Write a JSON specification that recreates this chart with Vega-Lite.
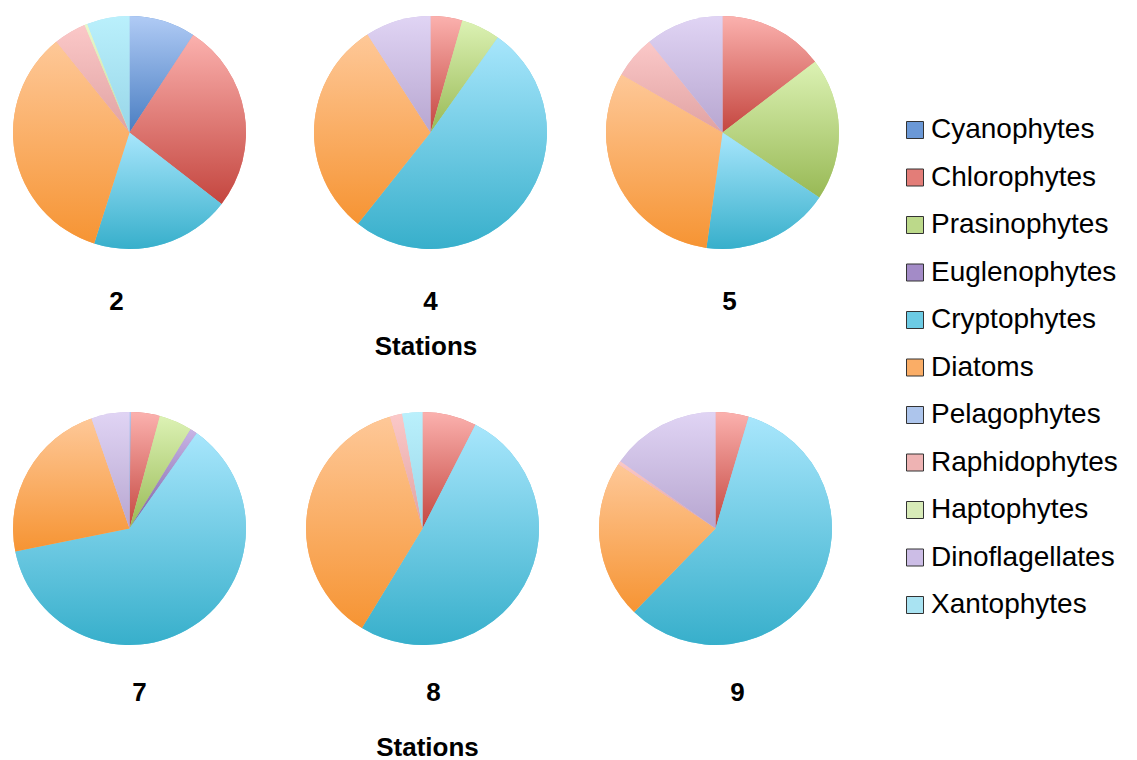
{
  "$schema": "https://vega.github.io/schema/vega-lite/v6.json",
  "padding": {"left": 13, "top": 16, "right": 0, "bottom": 0},
  "background": "white",
  "datasets": {
    "phyto": [
      {"station": "2", "group": "Cyanophytes", "pct": 9.2},
      {"station": "2", "group": "Chlorophytes", "pct": 26.3},
      {"station": "2", "group": "Cryptophytes", "pct": 19.4},
      {"station": "2", "group": "Diatoms", "pct": 34.3},
      {"station": "2", "group": "Raphidophytes", "pct": 4.5},
      {"station": "2", "group": "Haptophytes", "pct": 0.4},
      {"station": "2", "group": "Xantophytes", "pct": 5.9},
      {"station": "4", "group": "Chlorophytes", "pct": 4.4},
      {"station": "4", "group": "Prasinophytes", "pct": 5.4},
      {"station": "4", "group": "Cryptophytes", "pct": 50.9},
      {"station": "4", "group": "Diatoms", "pct": 30.2},
      {"station": "4", "group": "Dinoflagellates", "pct": 9.1},
      {"station": "5", "group": "Chlorophytes", "pct": 14.6},
      {"station": "5", "group": "Prasinophytes", "pct": 19.8},
      {"station": "5", "group": "Cryptophytes", "pct": 17.8},
      {"station": "5", "group": "Diatoms", "pct": 31.1},
      {"station": "5", "group": "Raphidophytes", "pct": 5.9},
      {"station": "5", "group": "Dinoflagellates", "pct": 10.8},
      {"station": "7", "group": "Cyanophytes", "pct": 0.2},
      {"station": "7", "group": "Chlorophytes", "pct": 4.0},
      {"station": "7", "group": "Prasinophytes", "pct": 4.6},
      {"station": "7", "group": "Euglenophytes", "pct": 1.0},
      {"station": "7", "group": "Cryptophytes", "pct": 62.1},
      {"station": "7", "group": "Diatoms", "pct": 22.9},
      {"station": "7", "group": "Dinoflagellates", "pct": 5.3},
      {"station": "8", "group": "Chlorophytes", "pct": 7.5},
      {"station": "8", "group": "Cryptophytes", "pct": 51.2},
      {"station": "8", "group": "Diatoms", "pct": 36.8},
      {"station": "8", "group": "Raphidophytes", "pct": 1.7},
      {"station": "8", "group": "Xantophytes", "pct": 2.8},
      {"station": "9", "group": "Chlorophytes", "pct": 4.6},
      {"station": "9", "group": "Cryptophytes", "pct": 57.7},
      {"station": "9", "group": "Diatoms", "pct": 22.0},
      {"station": "9", "group": "Raphidophytes", "pct": 0.5},
      {"station": "9", "group": "Dinoflagellates", "pct": 15.2}
    ],
    "cats": [
      {"group": "Cyanophytes", "rank": 1},
      {"group": "Chlorophytes", "rank": 2},
      {"group": "Prasinophytes", "rank": 3},
      {"group": "Euglenophytes", "rank": 4},
      {"group": "Cryptophytes", "rank": 5},
      {"group": "Diatoms", "rank": 6},
      {"group": "Pelagophytes", "rank": 7},
      {"group": "Raphidophytes", "rank": 8},
      {"group": "Haptophytes", "rank": 9},
      {"group": "Dinoflagellates", "rank": 10},
      {"group": "Xantophytes", "rank": 11}
    ]
  },
  "data": {"name": "phyto"},
  "transform": [
    {"lookup": "group", "from": {"data": {"name": "cats"}, "key": "group", "fields": ["rank"]}}
  ],
  "spacing": 52,
  "vconcat": [
    {
      "spacing": 68,
      "title": {"text": "Stations", "orient": "bottom", "anchor": "middle", "offset": 19},
      "hconcat": [
        {
          "width": 233, "height": 233,
          "title": {"text": "2", "orient": "bottom", "anchor": "middle", "offset": 40, "dx": -13},
          "transform": [{"filter": "datum.station === '2'"}],
          "layer": [
            {"mark": {"type": "arc"}, "encoding": {
              "theta": {"field": "pct", "type": "quantitative", "stack": true},
              "order": {"field": "rank", "type": "quantitative"},
              "color": {"field": "group", "type": "nominal",
                "scale": {"domain": ["Cyanophytes","Chlorophytes","Prasinophytes","Euglenophytes","Cryptophytes","Diatoms","Pelagophytes","Raphidophytes","Haptophytes","Dinoflagellates","Xantophytes"],
                          "range": ["#6b98d6","#e37d78","#bcd98a","#a38bc7","#6ccbe4","#faad66","#adc5ec","#eeb3b3","#d8ebb8","#ccbde6","#a9e3f2"]},
                "legend": {"title": null, "orient": "none", "legendX": 888, "legendY": 100}}
            }},
            {"mark": {"type": "arc"}, "encoding": {
              "theta": {"field": "pct", "type": "quantitative", "stack": true},
              "order": {"field": "rank", "type": "quantitative"},
              "detail": {"field": "group", "type": "nominal"},
              "fill": {"condition": [
                {"test": "datum.group === 'Cyanophytes'", "value": {"gradient": "linear", "x1": 0, "y1": 0, "x2": 0, "y2": 1, "stops": [{"offset": 0, "color": "#b0cbf5"}, {"offset": 1, "color": "#4a7ec2"}]}},
                {"test": "datum.group === 'Chlorophytes'", "value": {"gradient": "linear", "x1": 0, "y1": 0, "x2": 0, "y2": 1, "stops": [{"offset": 0, "color": "#fbb1ae"}, {"offset": 1, "color": "#c4463f"}]}},
                {"test": "datum.group === 'Prasinophytes'", "value": {"gradient": "linear", "x1": 0, "y1": 0, "x2": 0, "y2": 1, "stops": [{"offset": 0, "color": "#dcf2b4"}, {"offset": 1, "color": "#98b955"}]}},
                {"test": "datum.group === 'Euglenophytes'", "value": {"gradient": "linear", "x1": 0, "y1": 0, "x2": 0, "y2": 1, "stops": [{"offset": 0, "color": "#c8b4e6"}, {"offset": 1, "color": "#7d61a4"}]}},
                {"test": "datum.group === 'Cryptophytes'", "value": {"gradient": "linear", "x1": 0, "y1": 0, "x2": 0, "y2": 1, "stops": [{"offset": 0, "color": "#a8e6fc"}, {"offset": 1, "color": "#37afcb"}]}},
                {"test": "datum.group === 'Diatoms'", "value": {"gradient": "linear", "x1": 0, "y1": 0, "x2": 0, "y2": 1, "stops": [{"offset": 0, "color": "#fec898"}, {"offset": 1, "color": "#f69433"}]}},
                {"test": "datum.group === 'Pelagophytes'", "value": {"gradient": "linear", "x1": 0, "y1": 0, "x2": 0, "y2": 1, "stops": [{"offset": 0, "color": "#c6d8f6"}, {"offset": 1, "color": "#93b0d8"}]}},
                {"test": "datum.group === 'Raphidophytes'", "value": {"gradient": "linear", "x1": 0, "y1": 0, "x2": 0, "y2": 1, "stops": [{"offset": 0, "color": "#fbc8c8"}, {"offset": 1, "color": "#e0a2a2"}]}},
                {"test": "datum.group === 'Haptophytes'", "value": {"gradient": "linear", "x1": 0, "y1": 0, "x2": 0, "y2": 1, "stops": [{"offset": 0, "color": "#e8f8cc"}, {"offset": 1, "color": "#c6dc9c"}]}},
                {"test": "datum.group === 'Dinoflagellates'", "value": {"gradient": "linear", "x1": 0, "y1": 0, "x2": 0, "y2": 1, "stops": [{"offset": 0, "color": "#e0d4f4"}, {"offset": 1, "color": "#b7a6d0"}]}},
                {"test": "datum.group === 'Xantophytes'", "value": {"gradient": "linear", "x1": 0, "y1": 0, "x2": 0, "y2": 1, "stops": [{"offset": 0, "color": "#baf0fc"}, {"offset": 1, "color": "#98d6e8"}]}}
              ], "value": "#cccccc"}
            }}
          ]
        },
        {
          "spacing": 59,
          "hconcat": [
            {
              "width": 233, "height": 233,
              "title": {"text": "4", "orient": "bottom", "anchor": "middle", "offset": 40, "dx": 0},
              "transform": [{"filter": "datum.station === '4'"}],
              "layer": [
                {"mark": {"type": "arc"}, "encoding": {
                  "theta": {"field": "pct", "type": "quantitative", "stack": true},
                  "order": {"field": "rank", "type": "quantitative"},
                  "color": {"field": "group", "type": "nominal",
                    "scale": {"domain": ["Cyanophytes","Chlorophytes","Prasinophytes","Euglenophytes","Cryptophytes","Diatoms","Pelagophytes","Raphidophytes","Haptophytes","Dinoflagellates","Xantophytes"],
                              "range": ["#6b98d6","#e37d78","#bcd98a","#a38bc7","#6ccbe4","#faad66","#adc5ec","#eeb3b3","#d8ebb8","#ccbde6","#a9e3f2"]},
                    "legend": {"title": null, "orient": "none", "legendX": 888, "legendY": 100}}
                }},
                {"mark": {"type": "arc"}, "encoding": {
                  "theta": {"field": "pct", "type": "quantitative", "stack": true},
                  "order": {"field": "rank", "type": "quantitative"},
                  "detail": {"field": "group", "type": "nominal"},
                  "fill": {"condition": [
                    {"test": "datum.group === 'Cyanophytes'", "value": {"gradient": "linear", "x1": 0, "y1": 0, "x2": 0, "y2": 1, "stops": [{"offset": 0, "color": "#b0cbf5"}, {"offset": 1, "color": "#4a7ec2"}]}},
                    {"test": "datum.group === 'Chlorophytes'", "value": {"gradient": "linear", "x1": 0, "y1": 0, "x2": 0, "y2": 1, "stops": [{"offset": 0, "color": "#fbb1ae"}, {"offset": 1, "color": "#c4463f"}]}},
                    {"test": "datum.group === 'Prasinophytes'", "value": {"gradient": "linear", "x1": 0, "y1": 0, "x2": 0, "y2": 1, "stops": [{"offset": 0, "color": "#dcf2b4"}, {"offset": 1, "color": "#98b955"}]}},
                    {"test": "datum.group === 'Euglenophytes'", "value": {"gradient": "linear", "x1": 0, "y1": 0, "x2": 0, "y2": 1, "stops": [{"offset": 0, "color": "#c8b4e6"}, {"offset": 1, "color": "#7d61a4"}]}},
                    {"test": "datum.group === 'Cryptophytes'", "value": {"gradient": "linear", "x1": 0, "y1": 0, "x2": 0, "y2": 1, "stops": [{"offset": 0, "color": "#a8e6fc"}, {"offset": 1, "color": "#37afcb"}]}},
                    {"test": "datum.group === 'Diatoms'", "value": {"gradient": "linear", "x1": 0, "y1": 0, "x2": 0, "y2": 1, "stops": [{"offset": 0, "color": "#fec898"}, {"offset": 1, "color": "#f69433"}]}},
                    {"test": "datum.group === 'Pelagophytes'", "value": {"gradient": "linear", "x1": 0, "y1": 0, "x2": 0, "y2": 1, "stops": [{"offset": 0, "color": "#c6d8f6"}, {"offset": 1, "color": "#93b0d8"}]}},
                    {"test": "datum.group === 'Raphidophytes'", "value": {"gradient": "linear", "x1": 0, "y1": 0, "x2": 0, "y2": 1, "stops": [{"offset": 0, "color": "#fbc8c8"}, {"offset": 1, "color": "#e0a2a2"}]}},
                    {"test": "datum.group === 'Haptophytes'", "value": {"gradient": "linear", "x1": 0, "y1": 0, "x2": 0, "y2": 1, "stops": [{"offset": 0, "color": "#e8f8cc"}, {"offset": 1, "color": "#c6dc9c"}]}},
                    {"test": "datum.group === 'Dinoflagellates'", "value": {"gradient": "linear", "x1": 0, "y1": 0, "x2": 0, "y2": 1, "stops": [{"offset": 0, "color": "#e0d4f4"}, {"offset": 1, "color": "#b7a6d0"}]}},
                    {"test": "datum.group === 'Xantophytes'", "value": {"gradient": "linear", "x1": 0, "y1": 0, "x2": 0, "y2": 1, "stops": [{"offset": 0, "color": "#baf0fc"}, {"offset": 1, "color": "#98d6e8"}]}}
                  ], "value": "#cccccc"}
                }}
              ]
            },
            {
              "width": 233, "height": 233,
              "title": {"text": "5", "orient": "bottom", "anchor": "middle", "offset": 40, "dx": 7},
              "transform": [{"filter": "datum.station === '5'"}],
              "layer": [
                {"mark": {"type": "arc"}, "encoding": {
                  "theta": {"field": "pct", "type": "quantitative", "stack": true},
                  "order": {"field": "rank", "type": "quantitative"},
                  "color": {"field": "group", "type": "nominal",
                    "scale": {"domain": ["Cyanophytes","Chlorophytes","Prasinophytes","Euglenophytes","Cryptophytes","Diatoms","Pelagophytes","Raphidophytes","Haptophytes","Dinoflagellates","Xantophytes"],
                              "range": ["#6b98d6","#e37d78","#bcd98a","#a38bc7","#6ccbe4","#faad66","#adc5ec","#eeb3b3","#d8ebb8","#ccbde6","#a9e3f2"]},
                    "legend": {"title": null, "orient": "none", "legendX": 888, "legendY": 100}}
                }},
                {"mark": {"type": "arc"}, "encoding": {
                  "theta": {"field": "pct", "type": "quantitative", "stack": true},
                  "order": {"field": "rank", "type": "quantitative"},
                  "detail": {"field": "group", "type": "nominal"},
                  "fill": {"condition": [
                    {"test": "datum.group === 'Cyanophytes'", "value": {"gradient": "linear", "x1": 0, "y1": 0, "x2": 0, "y2": 1, "stops": [{"offset": 0, "color": "#b0cbf5"}, {"offset": 1, "color": "#4a7ec2"}]}},
                    {"test": "datum.group === 'Chlorophytes'", "value": {"gradient": "linear", "x1": 0, "y1": 0, "x2": 0, "y2": 1, "stops": [{"offset": 0, "color": "#fbb1ae"}, {"offset": 1, "color": "#c4463f"}]}},
                    {"test": "datum.group === 'Prasinophytes'", "value": {"gradient": "linear", "x1": 0, "y1": 0, "x2": 0, "y2": 1, "stops": [{"offset": 0, "color": "#dcf2b4"}, {"offset": 1, "color": "#98b955"}]}},
                    {"test": "datum.group === 'Euglenophytes'", "value": {"gradient": "linear", "x1": 0, "y1": 0, "x2": 0, "y2": 1, "stops": [{"offset": 0, "color": "#c8b4e6"}, {"offset": 1, "color": "#7d61a4"}]}},
                    {"test": "datum.group === 'Cryptophytes'", "value": {"gradient": "linear", "x1": 0, "y1": 0, "x2": 0, "y2": 1, "stops": [{"offset": 0, "color": "#a8e6fc"}, {"offset": 1, "color": "#37afcb"}]}},
                    {"test": "datum.group === 'Diatoms'", "value": {"gradient": "linear", "x1": 0, "y1": 0, "x2": 0, "y2": 1, "stops": [{"offset": 0, "color": "#fec898"}, {"offset": 1, "color": "#f69433"}]}},
                    {"test": "datum.group === 'Pelagophytes'", "value": {"gradient": "linear", "x1": 0, "y1": 0, "x2": 0, "y2": 1, "stops": [{"offset": 0, "color": "#c6d8f6"}, {"offset": 1, "color": "#93b0d8"}]}},
                    {"test": "datum.group === 'Raphidophytes'", "value": {"gradient": "linear", "x1": 0, "y1": 0, "x2": 0, "y2": 1, "stops": [{"offset": 0, "color": "#fbc8c8"}, {"offset": 1, "color": "#e0a2a2"}]}},
                    {"test": "datum.group === 'Haptophytes'", "value": {"gradient": "linear", "x1": 0, "y1": 0, "x2": 0, "y2": 1, "stops": [{"offset": 0, "color": "#e8f8cc"}, {"offset": 1, "color": "#c6dc9c"}]}},
                    {"test": "datum.group === 'Dinoflagellates'", "value": {"gradient": "linear", "x1": 0, "y1": 0, "x2": 0, "y2": 1, "stops": [{"offset": 0, "color": "#e0d4f4"}, {"offset": 1, "color": "#b7a6d0"}]}},
                    {"test": "datum.group === 'Xantophytes'", "value": {"gradient": "linear", "x1": 0, "y1": 0, "x2": 0, "y2": 1, "stops": [{"offset": 0, "color": "#baf0fc"}, {"offset": 1, "color": "#98d6e8"}]}}
                  ], "value": "#cccccc"}
                }}
              ]
            }
          ]
        }
      ]
    },
    {
      "spacing": 60,
      "title": {"text": "Stations", "orient": "bottom", "anchor": "middle", "offset": 29, "dx": 5},
      "hconcat": [
        {
          "width": 233, "height": 233,
          "title": {"text": "7", "orient": "bottom", "anchor": "middle", "offset": 35, "dx": 10},
          "transform": [{"filter": "datum.station === '7'"}],
          "layer": [
            {"mark": {"type": "arc"}, "encoding": {
              "theta": {"field": "pct", "type": "quantitative", "stack": true},
              "order": {"field": "rank", "type": "quantitative"},
              "color": {"field": "group", "type": "nominal",
                "scale": {"domain": ["Cyanophytes","Chlorophytes","Prasinophytes","Euglenophytes","Cryptophytes","Diatoms","Pelagophytes","Raphidophytes","Haptophytes","Dinoflagellates","Xantophytes"],
                          "range": ["#6b98d6","#e37d78","#bcd98a","#a38bc7","#6ccbe4","#faad66","#adc5ec","#eeb3b3","#d8ebb8","#ccbde6","#a9e3f2"]},
                "legend": {"title": null, "orient": "none", "legendX": 888, "legendY": 100}}
            }},
            {"mark": {"type": "arc"}, "encoding": {
              "theta": {"field": "pct", "type": "quantitative", "stack": true},
              "order": {"field": "rank", "type": "quantitative"},
              "detail": {"field": "group", "type": "nominal"},
              "fill": {"condition": [
                {"test": "datum.group === 'Cyanophytes'", "value": {"gradient": "linear", "x1": 0, "y1": 0, "x2": 0, "y2": 1, "stops": [{"offset": 0, "color": "#b0cbf5"}, {"offset": 1, "color": "#4a7ec2"}]}},
                {"test": "datum.group === 'Chlorophytes'", "value": {"gradient": "linear", "x1": 0, "y1": 0, "x2": 0, "y2": 1, "stops": [{"offset": 0, "color": "#fbb1ae"}, {"offset": 1, "color": "#c4463f"}]}},
                {"test": "datum.group === 'Prasinophytes'", "value": {"gradient": "linear", "x1": 0, "y1": 0, "x2": 0, "y2": 1, "stops": [{"offset": 0, "color": "#dcf2b4"}, {"offset": 1, "color": "#98b955"}]}},
                {"test": "datum.group === 'Euglenophytes'", "value": {"gradient": "linear", "x1": 0, "y1": 0, "x2": 0, "y2": 1, "stops": [{"offset": 0, "color": "#c8b4e6"}, {"offset": 1, "color": "#7d61a4"}]}},
                {"test": "datum.group === 'Cryptophytes'", "value": {"gradient": "linear", "x1": 0, "y1": 0, "x2": 0, "y2": 1, "stops": [{"offset": 0, "color": "#a8e6fc"}, {"offset": 1, "color": "#37afcb"}]}},
                {"test": "datum.group === 'Diatoms'", "value": {"gradient": "linear", "x1": 0, "y1": 0, "x2": 0, "y2": 1, "stops": [{"offset": 0, "color": "#fec898"}, {"offset": 1, "color": "#f69433"}]}},
                {"test": "datum.group === 'Pelagophytes'", "value": {"gradient": "linear", "x1": 0, "y1": 0, "x2": 0, "y2": 1, "stops": [{"offset": 0, "color": "#c6d8f6"}, {"offset": 1, "color": "#93b0d8"}]}},
                {"test": "datum.group === 'Raphidophytes'", "value": {"gradient": "linear", "x1": 0, "y1": 0, "x2": 0, "y2": 1, "stops": [{"offset": 0, "color": "#fbc8c8"}, {"offset": 1, "color": "#e0a2a2"}]}},
                {"test": "datum.group === 'Haptophytes'", "value": {"gradient": "linear", "x1": 0, "y1": 0, "x2": 0, "y2": 1, "stops": [{"offset": 0, "color": "#e8f8cc"}, {"offset": 1, "color": "#c6dc9c"}]}},
                {"test": "datum.group === 'Dinoflagellates'", "value": {"gradient": "linear", "x1": 0, "y1": 0, "x2": 0, "y2": 1, "stops": [{"offset": 0, "color": "#e0d4f4"}, {"offset": 1, "color": "#b7a6d0"}]}},
                {"test": "datum.group === 'Xantophytes'", "value": {"gradient": "linear", "x1": 0, "y1": 0, "x2": 0, "y2": 1, "stops": [{"offset": 0, "color": "#baf0fc"}, {"offset": 1, "color": "#98d6e8"}]}}
              ], "value": "#cccccc"}
            }}
          ]
        },
        {
          "width": 233, "height": 233,
          "title": {"text": "8", "orient": "bottom", "anchor": "middle", "offset": 35, "dx": 11},
          "transform": [{"filter": "datum.station === '8'"}],
          "layer": [
            {"mark": {"type": "arc"}, "encoding": {
              "theta": {"field": "pct", "type": "quantitative", "stack": true},
              "order": {"field": "rank", "type": "quantitative"},
              "color": {"field": "group", "type": "nominal",
                "scale": {"domain": ["Cyanophytes","Chlorophytes","Prasinophytes","Euglenophytes","Cryptophytes","Diatoms","Pelagophytes","Raphidophytes","Haptophytes","Dinoflagellates","Xantophytes"],
                          "range": ["#6b98d6","#e37d78","#bcd98a","#a38bc7","#6ccbe4","#faad66","#adc5ec","#eeb3b3","#d8ebb8","#ccbde6","#a9e3f2"]},
                "legend": {"title": null, "orient": "none", "legendX": 888, "legendY": 100}}
            }},
            {"mark": {"type": "arc"}, "encoding": {
              "theta": {"field": "pct", "type": "quantitative", "stack": true},
              "order": {"field": "rank", "type": "quantitative"},
              "detail": {"field": "group", "type": "nominal"},
              "fill": {"condition": [
                {"test": "datum.group === 'Cyanophytes'", "value": {"gradient": "linear", "x1": 0, "y1": 0, "x2": 0, "y2": 1, "stops": [{"offset": 0, "color": "#b0cbf5"}, {"offset": 1, "color": "#4a7ec2"}]}},
                {"test": "datum.group === 'Chlorophytes'", "value": {"gradient": "linear", "x1": 0, "y1": 0, "x2": 0, "y2": 1, "stops": [{"offset": 0, "color": "#fbb1ae"}, {"offset": 1, "color": "#c4463f"}]}},
                {"test": "datum.group === 'Prasinophytes'", "value": {"gradient": "linear", "x1": 0, "y1": 0, "x2": 0, "y2": 1, "stops": [{"offset": 0, "color": "#dcf2b4"}, {"offset": 1, "color": "#98b955"}]}},
                {"test": "datum.group === 'Euglenophytes'", "value": {"gradient": "linear", "x1": 0, "y1": 0, "x2": 0, "y2": 1, "stops": [{"offset": 0, "color": "#c8b4e6"}, {"offset": 1, "color": "#7d61a4"}]}},
                {"test": "datum.group === 'Cryptophytes'", "value": {"gradient": "linear", "x1": 0, "y1": 0, "x2": 0, "y2": 1, "stops": [{"offset": 0, "color": "#a8e6fc"}, {"offset": 1, "color": "#37afcb"}]}},
                {"test": "datum.group === 'Diatoms'", "value": {"gradient": "linear", "x1": 0, "y1": 0, "x2": 0, "y2": 1, "stops": [{"offset": 0, "color": "#fec898"}, {"offset": 1, "color": "#f69433"}]}},
                {"test": "datum.group === 'Pelagophytes'", "value": {"gradient": "linear", "x1": 0, "y1": 0, "x2": 0, "y2": 1, "stops": [{"offset": 0, "color": "#c6d8f6"}, {"offset": 1, "color": "#93b0d8"}]}},
                {"test": "datum.group === 'Raphidophytes'", "value": {"gradient": "linear", "x1": 0, "y1": 0, "x2": 0, "y2": 1, "stops": [{"offset": 0, "color": "#fbc8c8"}, {"offset": 1, "color": "#e0a2a2"}]}},
                {"test": "datum.group === 'Haptophytes'", "value": {"gradient": "linear", "x1": 0, "y1": 0, "x2": 0, "y2": 1, "stops": [{"offset": 0, "color": "#e8f8cc"}, {"offset": 1, "color": "#c6dc9c"}]}},
                {"test": "datum.group === 'Dinoflagellates'", "value": {"gradient": "linear", "x1": 0, "y1": 0, "x2": 0, "y2": 1, "stops": [{"offset": 0, "color": "#e0d4f4"}, {"offset": 1, "color": "#b7a6d0"}]}},
                {"test": "datum.group === 'Xantophytes'", "value": {"gradient": "linear", "x1": 0, "y1": 0, "x2": 0, "y2": 1, "stops": [{"offset": 0, "color": "#baf0fc"}, {"offset": 1, "color": "#98d6e8"}]}}
              ], "value": "#cccccc"}
            }}
          ]
        },
        {
          "width": 233, "height": 233,
          "title": {"text": "9", "orient": "bottom", "anchor": "middle", "offset": 35, "dx": 22},
          "transform": [{"filter": "datum.station === '9'"}],
          "layer": [
            {"mark": {"type": "arc"}, "encoding": {
              "theta": {"field": "pct", "type": "quantitative", "stack": true},
              "order": {"field": "rank", "type": "quantitative"},
              "color": {"field": "group", "type": "nominal",
                "scale": {"domain": ["Cyanophytes","Chlorophytes","Prasinophytes","Euglenophytes","Cryptophytes","Diatoms","Pelagophytes","Raphidophytes","Haptophytes","Dinoflagellates","Xantophytes"],
                          "range": ["#6b98d6","#e37d78","#bcd98a","#a38bc7","#6ccbe4","#faad66","#adc5ec","#eeb3b3","#d8ebb8","#ccbde6","#a9e3f2"]},
                "legend": {"title": null, "orient": "none", "legendX": 888, "legendY": 100}}
            }},
            {"mark": {"type": "arc"}, "encoding": {
              "theta": {"field": "pct", "type": "quantitative", "stack": true},
              "order": {"field": "rank", "type": "quantitative"},
              "detail": {"field": "group", "type": "nominal"},
              "fill": {"condition": [
                {"test": "datum.group === 'Cyanophytes'", "value": {"gradient": "linear", "x1": 0, "y1": 0, "x2": 0, "y2": 1, "stops": [{"offset": 0, "color": "#b0cbf5"}, {"offset": 1, "color": "#4a7ec2"}]}},
                {"test": "datum.group === 'Chlorophytes'", "value": {"gradient": "linear", "x1": 0, "y1": 0, "x2": 0, "y2": 1, "stops": [{"offset": 0, "color": "#fbb1ae"}, {"offset": 1, "color": "#c4463f"}]}},
                {"test": "datum.group === 'Prasinophytes'", "value": {"gradient": "linear", "x1": 0, "y1": 0, "x2": 0, "y2": 1, "stops": [{"offset": 0, "color": "#dcf2b4"}, {"offset": 1, "color": "#98b955"}]}},
                {"test": "datum.group === 'Euglenophytes'", "value": {"gradient": "linear", "x1": 0, "y1": 0, "x2": 0, "y2": 1, "stops": [{"offset": 0, "color": "#c8b4e6"}, {"offset": 1, "color": "#7d61a4"}]}},
                {"test": "datum.group === 'Cryptophytes'", "value": {"gradient": "linear", "x1": 0, "y1": 0, "x2": 0, "y2": 1, "stops": [{"offset": 0, "color": "#a8e6fc"}, {"offset": 1, "color": "#37afcb"}]}},
                {"test": "datum.group === 'Diatoms'", "value": {"gradient": "linear", "x1": 0, "y1": 0, "x2": 0, "y2": 1, "stops": [{"offset": 0, "color": "#fec898"}, {"offset": 1, "color": "#f69433"}]}},
                {"test": "datum.group === 'Pelagophytes'", "value": {"gradient": "linear", "x1": 0, "y1": 0, "x2": 0, "y2": 1, "stops": [{"offset": 0, "color": "#c6d8f6"}, {"offset": 1, "color": "#93b0d8"}]}},
                {"test": "datum.group === 'Raphidophytes'", "value": {"gradient": "linear", "x1": 0, "y1": 0, "x2": 0, "y2": 1, "stops": [{"offset": 0, "color": "#fbc8c8"}, {"offset": 1, "color": "#e0a2a2"}]}},
                {"test": "datum.group === 'Haptophytes'", "value": {"gradient": "linear", "x1": 0, "y1": 0, "x2": 0, "y2": 1, "stops": [{"offset": 0, "color": "#e8f8cc"}, {"offset": 1, "color": "#c6dc9c"}]}},
                {"test": "datum.group === 'Dinoflagellates'", "value": {"gradient": "linear", "x1": 0, "y1": 0, "x2": 0, "y2": 1, "stops": [{"offset": 0, "color": "#e0d4f4"}, {"offset": 1, "color": "#b7a6d0"}]}},
                {"test": "datum.group === 'Xantophytes'", "value": {"gradient": "linear", "x1": 0, "y1": 0, "x2": 0, "y2": 1, "stops": [{"offset": 0, "color": "#baf0fc"}, {"offset": 1, "color": "#98d6e8"}]}}
              ], "value": "#cccccc"}
            }}
          ]
        }
      ]
    }
  ],
  "config": {
    "view": {"stroke": null},
    "font": "Liberation Sans",
    "title": {"font": "Liberation Sans", "fontSize": 26, "fontWeight": "bold", "color": "#000000"},
    "legend": {
      "symbolType": "square",
      "symbolSize": 289,
      "symbolStrokeColor": "#333333",
      "symbolStrokeWidth": 1,
      "symbolOpacity": 1,
      "labelFont": "Liberation Sans",
      "labelFontSize": 28,
      "labelColor": "#000000",
      "labelOffset": 2,
      "labelLimit": 400,
      "rowPadding": 19.5,
      "padding": 0
    }
  }
}
